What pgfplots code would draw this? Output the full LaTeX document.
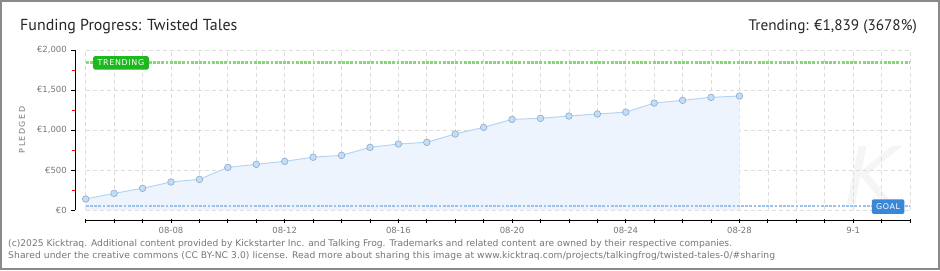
\documentclass[border=0pt]{standalone}
\usepackage{fontspec}
\setmainfont{DejaVu Sans}
\newfontfamily\titlefont{PT Sans}
\usepackage{pgfplots}
\pgfplotsset{compat=1.18}

\definecolor{framegray}{HTML}{8A8A8A}
\definecolor{txtgray}{HTML}{777777}
\definecolor{gridgray}{HTML}{DDDDDD}
\definecolor{areablue}{HTML}{EDF4FD}
\definecolor{lineblue}{HTML}{B5D5F5}
\definecolor{markfill}{HTML}{C4DDF6}
\definecolor{markdraw}{HTML}{8FA9C8}
\definecolor{trendline}{HTML}{86D878}
\definecolor{trendbox}{HTML}{1DB81D}
\definecolor{goalline}{HTML}{9CC2EA}
\definecolor{goalbox}{HTML}{3A87D6}

% pledged total per day, day 0 = 08-05
\pgfplotstableread{
day pledged
0 137
1 208
2 271
3 350
4 383
5 533
6 571
7 608
8 660
9 683
10 783
11 825
12 846
13 950
14 1033
15 1133
16 1146
17 1175
18 1200
19 1223
20 1337
21 1371
22 1408
23 1425
}\pledged

\begin{document}
\begin{tikzpicture}[x=1bp,y=1bp]
\path[use as bounding box] (0,0) rectangle (940,270);
\fill[white] (0,0) rectangle (940,270);
\draw[line width=2bp, framegray] (1,1) rectangle (939,269);

% faint watermark
\node[text=black!4, font=\itshape\fontsize{80}{80}\selectfont] at (872,95) {K};

\begin{axis}[
  at={(85.7bp,60bp)}, anchor=south west,
  scale only axis, width=824.3bp, height=160bp,
  xmin=0, xmax=29, ymin=0, ymax=2000,
  axis x line=bottom, axis y line=left,
  axis x line shift=10.7bp, axis y line shift=10.5bp,
  axis line style={black, line width=0.8bp, -},
  xtick={0,...,29},
  xticklabels={,,,08-08,,,,08-12,,,,08-16,,,,08-20,,,,08-24,,,,08-28,,,,9-1,,},
  ytick={0,500,1000,1500,2000},
  yticklabels={€0,€500,{€1,000},{€1,500},{€2,000}},
  minor ytick={250,750,1250,1750},
  xtick align=center, ytick align=outside,
  major tick length=4bp, minor tick length=3.5bp,
  tick style={black, line width=0.8bp},
  minor y tick style={red, line width=0.8bp},
  xmajorgrids, ymajorgrids,
  major grid style={gridgray, line width=0.7bp, dash pattern=on 4bp off 3bp},
  ticklabel style={text=txtgray, font=\fontsize{8.5}{9}\selectfont},
  xticklabel style={yshift=-0.5bp},
  yticklabel style={xshift=-1bp},
  clip=false,
]
\addplot[fill=areablue, draw=none] table[x=day, y=pledged] {\pledged} \closedcycle;
\addplot[goalline, line width=2.8bp, dash pattern=on 2.8bp off 1.4bp] coordinates {(0,50) (29,50)};
\addplot[trendline, line width=2.8bp, dash pattern=on 2.8bp off 1.4bp] coordinates {(0,1839) (29,1839)};
\addplot[lineblue, line width=1bp, mark=*, mark size=3.3bp,
  mark options={fill=markfill, draw=markdraw, line width=0.6bp}]
  table[x=day, y=pledged] {\pledged};
\node[fill=trendbox, text=white, minimum width=55.7bp, minimum height=13.3bp,
  inner sep=0pt, rounded corners=1.5bp, font=\fontsize{8}{8}\selectfont\addfontfeature{LetterSpace=8}]
  at (axis cs:1.24,1839) {TRENDING};
\node[fill=goalbox, text=white, minimum width=32.6bp, minimum height=14.7bp,
  inner sep=0pt, rounded corners=1.5bp, font=\fontsize{8}{8}\selectfont\addfontfeature{LetterSpace=8}]
  at (axis cs:28.23,42) {GOAL};
\end{axis}

\node[anchor=base west, inner sep=0pt, text=black!85, font=\titlefont\fontsize{16}{16}\selectfont]
  at (20,240) {Funding Progress: Twisted Tales};
\node[anchor=base east, inner sep=0pt, text=black!85, font=\titlefont\fontsize{15.3}{15.3}\selectfont]
  at (917,240) {Trending: €1,839 (3678\%)};
\node[rotate=90, inner sep=0pt, text=txtgray, font=\fontsize{8}{8}\selectfont\addfontfeature{LetterSpace=18}]
  at (22,140) {PLEDGED};
\node[anchor=base west, inner sep=0pt, text=txtgray, font=\fontsize{9.2}{9.2}\selectfont]
  at (8,23.5) {(c)2025 Kicktraq. Additional content provided by Kickstarter Inc. and Talking Frog. Trademarks and related content are owned by their respective companies.};
\node[anchor=base west, inner sep=0pt, text=txtgray, font=\fontsize{9.2}{9.2}\selectfont\addfontfeature{LetterSpace=1}]
  at (8,11.5) {Shared under the creative commons (CC BY-NC 3.0) license. Read more about sharing this image at www.kicktraq.com/projects/talkingfrog/twisted-tales-0/\#sharing};
\end{tikzpicture}
\end{document}
